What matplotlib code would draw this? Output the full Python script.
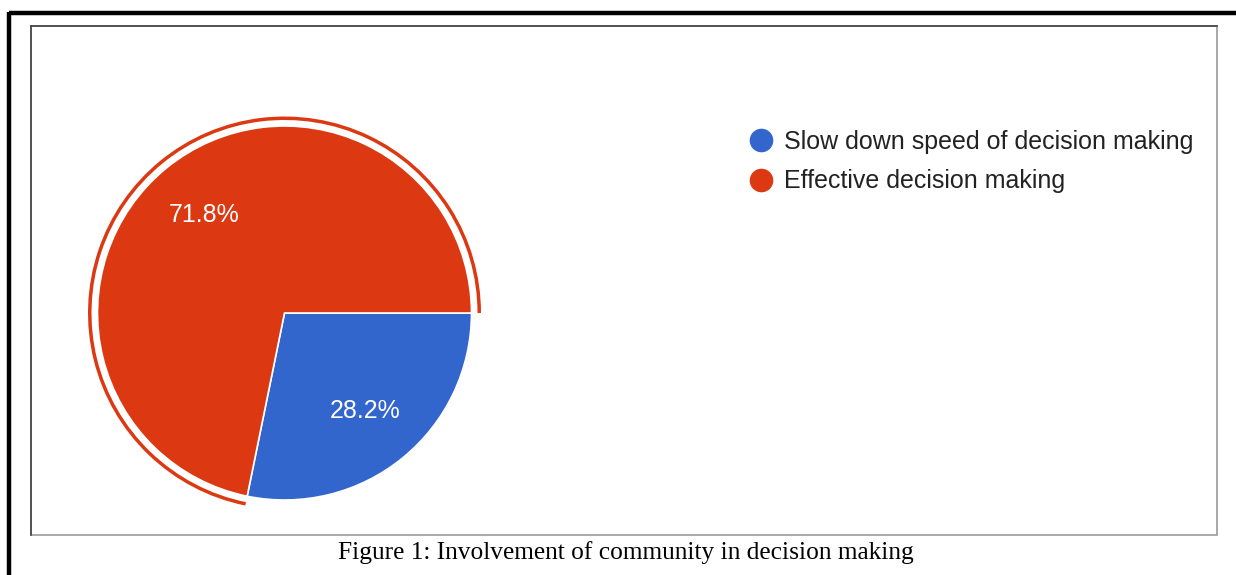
import matplotlib
matplotlib.use('Agg')
import matplotlib.pyplot as plt
from matplotlib.patches import Wedge, Rectangle
from matplotlib.lines import Line2D

# Data
labels = ['Slow down speed of decision making', 'Effective decision making']
values = [28.2, 71.8]
colors = ['#3366CC', '#DC3912']
caption = 'Figure 1: Involvement of community in decision making'

W, H = 1236, 575
fig = plt.figure(figsize=(W / 100, H / 100), dpi=100)
fig.patch.set_facecolor('white')

# Frame overlay in pixel coordinates
bg = fig.add_axes([0, 0, 1, 1])
bg.set_xlim(0, W)
bg.set_ylim(H, 0)
bg.axis('off')
# thick outer black frame (top + left)
bg.plot([9, W], [13, 13], color='black', lw=3.2, solid_capstyle='butt')
bg.plot([9, 9], [11.5, H], color='black', lw=3.2, solid_capstyle='butt')
# inner chart box
bg.add_patch(Rectangle((31, 26), 1186, 509, fill=False, edgecolor='#9a9a9a', lw=1.2))
bg.plot([31, 1217], [26, 26], color='#444444', lw=1.2)
bg.plot([31, 31], [26, 535], color='#444444', lw=1.2)

# Pie: centre (284.5, 313) px, radius 187 px
cx, cy, r = 284.5, 313, 187
half = 200
ax = fig.add_axes([(cx - half) / W, (H - cy - half) / H, 2 * half / W, 2 * half / H])
lim = half / r
wedges, texts, autotexts = ax.pie(
    values, colors=colors, startangle=0, counterclock=False,
    autopct='%1.1f%%', pctdistance=0.68,
    wedgeprops=dict(edgecolor='white', linewidth=1.2),
    textprops=dict(color='white', fontsize=18, family='Liberation Sans'))
ax.set_xlim(-lim, lim)
ax.set_ylim(-lim, lim)
ax.set_aspect('equal')
ax.axis('off')

# highlight ring around the larger slice
red = wedges[1]
ax.add_patch(Wedge((0, 0), 1 + 9.5 / r, red.theta1, red.theta2, width=3.5 / r,
                   facecolor=colors[1], edgecolor='none'))

# Legend
handles = [Line2D([], [], marker='o', linestyle='none', markersize=16,
                  markerfacecolor=c, markeredgecolor=c) for c in colors]
fig.legend(handles, labels, loc='upper left',
           bbox_to_anchor=(748 / W, 1 - 130 / H), frameon=False,
           prop=dict(family='Liberation Sans', size=18),
           labelcolor='#222222', handlelength=1.0, handletextpad=0.45,
           labelspacing=0.61, borderpad=0, borderaxespad=0)

# Caption
fig.text(626 / W, 1 - 553 / H, caption, ha='center', va='center',
         family='Liberation Serif', fontsize=18.3, color='black')

fig.savefig('out.png', dpi=100)
